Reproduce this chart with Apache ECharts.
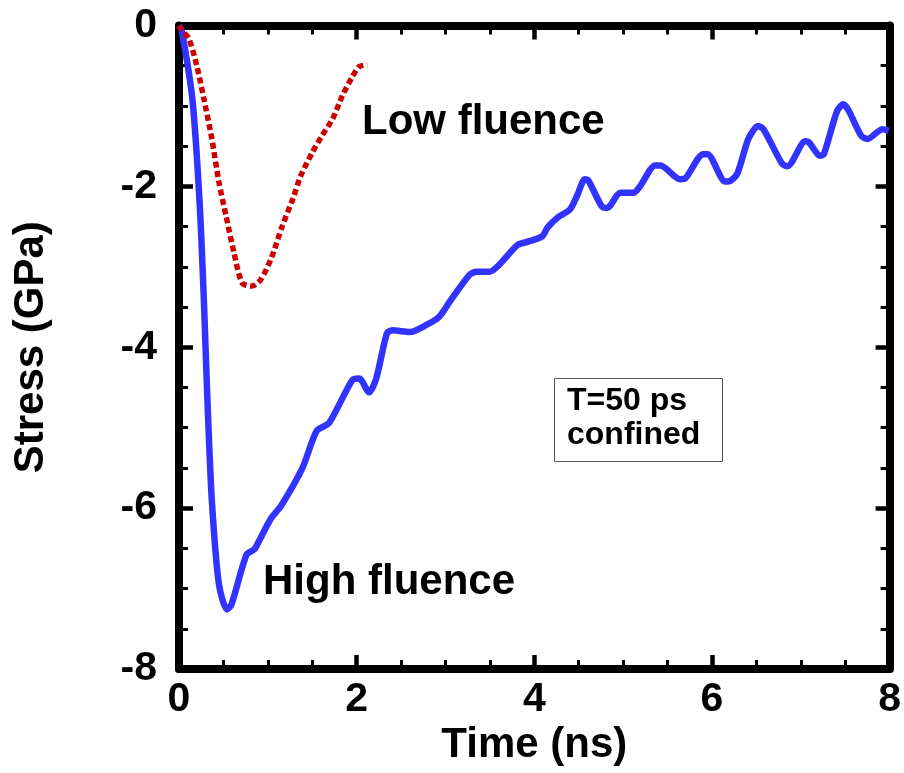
<!DOCTYPE html>
<html><head><meta charset="utf-8">
<script src="https://cdn.jsdelivr.net/npm/echarts@6/dist/echarts.min.js"></script>
<style>html,body{margin:0;padding:0;background:#fff}#c{width:904px;height:773px}</style>
</head><body><div id="c"></div>
<script>
const highT=[0.0,0.03,0.15,0.23,0.28,0.32,0.37,0.45,0.54,0.59,0.76,0.85,0.9,1.04,1.15,1.39,1.55,1.69,1.95,2.03,2.14,2.22,2.34,2.40,2.6,2.79,2.93,3.05,3.27,3.35,3.5,3.61,3.81,3.92,4.09,4.15,4.27,4.40,4.48,4.57,4.61,4.76,4.82,4.97,5.12,5.19,5.36,5.42,5.64,5.70,5.9,5.95,6.15,6.21,6.29,6.41,6.52,6.58,6.79,6.85,7.05,7.09,7.22,7.26,7.41,7.48,7.54,7.68,7.75,7.92,7.99];
const highS=[0.0,-0.06,-0.91,-2.16,-3.41,-4.66,-5.91,-6.95,-7.26,-7.2,-6.58,-6.51,-6.41,-6.12,-5.97,-5.5,-5.04,-4.94,-4.41,-4.39,-4.56,-4.39,-3.83,-3.79,-3.81,-3.72,-3.62,-3.43,-3.1,-3.06,-3.06,-2.97,-2.73,-2.69,-2.62,-2.51,-2.38,-2.29,-2.12,-1.91,-1.93,-2.25,-2.27,-2.08,-2.08,-2.0,-1.74,-1.74,-1.91,-1.9,-1.6,-1.6,-1.94,-1.93,-1.83,-1.41,-1.25,-1.29,-1.72,-1.75,-1.44,-1.45,-1.62,-1.6,-1.06,-0.98,-1.06,-1.37,-1.41,-1.29,-1.31];
const lowT=[0.0,0.03,0.11,0.2,0.28,0.37,0.45,0.53,0.62,0.71,0.82,0.92,1.04,1.16,1.28,1.37,1.5,1.61,1.73,1.84,1.95,2.03,2.12];
const lowS=[0.0,-0.06,-0.16,-0.5,-0.91,-1.41,-1.95,-2.37,-2.83,-3.2,-3.24,-3.16,-2.89,-2.5,-2.16,-1.87,-1.58,-1.37,-1.16,-0.87,-0.64,-0.51,-0.49];
const xTicks=[0,2,4,6,8];
const yTicks=[0,-2,-4,-6,-8];
const zip=(a,b)=>a.map((v,i)=>[v,b[i]]);
const FONT='"Liberation Sans", Arial, sans-serif';
const chart=echarts.init(document.getElementById('c'),null,{renderer:'canvas'});
const lineStyle={color:'#000',width:8};
const tick=()=>({show:true,inside:true,length:14,lineStyle:{color:'#000',width:4.5}});
const minor={show:true,splitNumber:4,length:9,lineStyle:{color:'#000',width:3}};
const lab={fontFamily:FONT,fontSize:41,fontWeight:'bold',color:'#000'};
chart.setOption({
  animation:false,
  grid:{left:179,right:12,top:25.5,bottom:104,containLabel:false},
  xAxis:[
    {type:'value',min:0,max:8,interval:2,position:'bottom',
     axisLine:{show:true,onZero:false,lineStyle},axisTick:tick(),minorTick:minor,splitLine:{show:false},
     axisLabel:Object.assign({show:true,margin:10,formatter:v=>xTicks.includes(v)?String(v):''},lab),
     name:'Time (ns)',nameLocation:'middle',nameGap:47,nameTextStyle:{fontFamily:FONT,fontSize:42,fontWeight:'bold',color:'#000'}},
    {type:'value',min:0,max:8,interval:2,position:'top',
     axisLine:{show:true,onZero:false,lineStyle},axisTick:tick(),minorTick:minor,splitLine:{show:false},axisLabel:{show:false}}
  ],
  yAxis:[
    {type:'value',min:-8,max:0,interval:2,position:'left',
     axisLine:{show:true,onZero:false,lineStyle},axisTick:tick(),minorTick:minor,splitLine:{show:false},
     axisLabel:Object.assign({show:true,margin:22,formatter:v=>yTicks.includes(v)?String(v):''},lab),
     name:'Stress (GPa)',nameLocation:'middle',nameGap:127,nameRotate:90,nameTextStyle:{fontFamily:FONT,fontSize:42,fontWeight:'bold',color:'#000'}},
    {type:'value',min:-8,max:0,interval:2,position:'right',
     axisLine:{show:true,onZero:false,lineStyle},axisTick:tick(),minorTick:minor,splitLine:{show:false},axisLabel:{show:false}}
  ],
  series:[
    {type:'line',name:'High fluence',data:zip(highT,highS),showSymbol:false,smooth:0.25,
     lineStyle:{color:'#3333ff',width:6.5},z:3},
    {type:'line',name:'Low fluence',data:zip(lowT,lowS),showSymbol:false,smooth:0.25,
     lineStyle:{color:'#cc0000',width:5.5,type:[6,3.5]},z:4}
  ],
  graphic:[
    {type:'text',left:362,top:101,style:{text:'Low fluence',font:'bold 42px '+FONT,fill:'#000'}},
    {type:'text',left:263,top:561,style:{text:'High fluence',font:'bold 42px '+FONT,fill:'#000'}},
    {type:'rect',shape:{x:554.5,y:378.5,width:168,height:83},style:{fill:'#fff',stroke:'#555',lineWidth:1}},
    {type:'text',left:567,top:384,style:{text:'T=50 ps\nconfined',font:'bold 32px '+FONT,lineHeight:34,fill:'#000'}}
  ]
});
</script></body></html>
